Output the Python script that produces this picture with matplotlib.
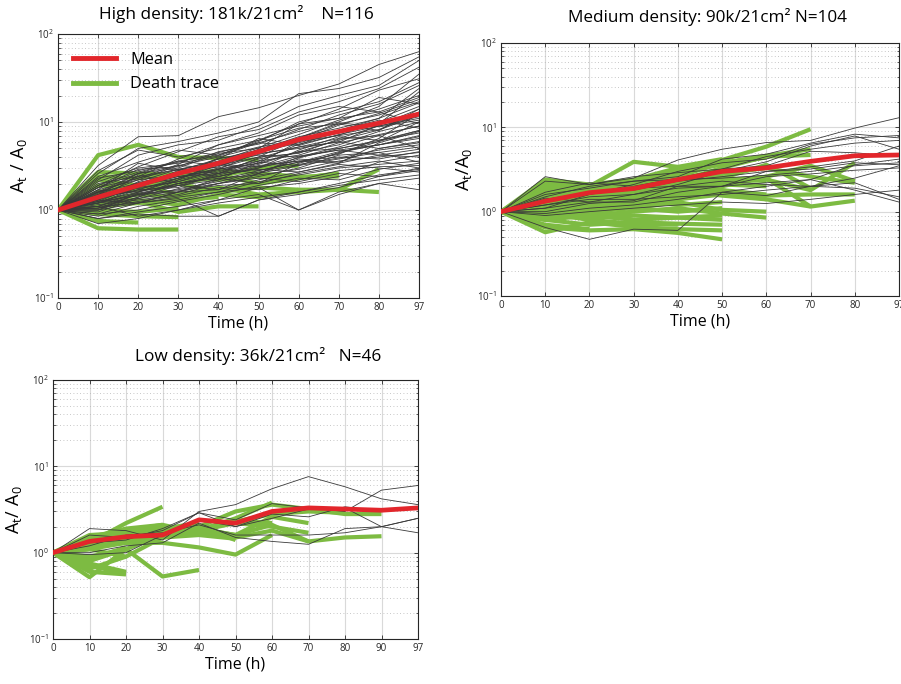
import matplotlib.pyplot as plt
import numpy as np
from matplotlib.ticker import LogLocator, NullFormatter

plt.rcParams["font.family"] = ["Open Sans", "DejaVu Sans"]

# time points (h); plotted at evenly spaced positions like the original
time_10 = [0, 10, 20, 30, 40, 50, 60, 70, 80, 97]
time_11 = [0, 10, 20, 30, 40, 50, 60, 70, 80, 90, 97]

# ---- high density: 181k/21cm2, N=116 ----
high_mean = [1, 1.4, 1.9, 2.6, 3.4, 4.6, 6.3, 7.8, 9.7, 12.3]
high_traces = [
    [1, 3.2, 6.8, 7.0, 11.5, 14.5, 20, 27, 45, 63],
    [1, 2.6, 5.0, 6.0, 7.5, 10, 21, 24, 32, 55],
    [1, 2.2, 4.2, 5.5, 6.2, 9.0, 15, 20, 26, 50],
    [1, 1.9, 3.1, 4.6, 6.8, 8.2, 13, 17, 24, 42],
    [1, 1.6, 2.6, 3.6, 4.2, 6.2, 9.5, 14, 23, 31],
    [1, 1.8, 2.9, 3.1, 4.6, 5.6, 8.2, 12, 16, 26],
    [1, 1.3, 2.1, 2.9, 3.6, 5.1, 7.2, 10.5, 14, 20],
    [1, 1.2, 1.8, 2.6, 3.1, 4.6, 6.1, 9.2, 12.5, 18],
    [1, 1.4, 1.9, 2.3, 2.9, 3.6, 5.6, 7.1, 10, 15],
    [1, 1.1, 1.5, 2.0, 2.6, 3.3, 4.6, 6.2, 8.1, 12],
    [1, 2.0, 2.4, 3.8, 5.5, 7.0, 9.0, 11, 13, 9.5],
    [1, 1.5, 2.2, 3.2, 3.0, 4.0, 6.5, 9.5, 8.0, 14],
    [1, 1.7, 3.4, 2.8, 3.8, 6.5, 5.5, 8.0, 11, 16.5],
    [1, 1.25, 1.6, 2.2, 3.5, 4.2, 4.0, 5.2, 7.0, 9.0],
    [1, 1.3, 2.5, 2.0, 2.4, 3.0, 4.8, 6.8, 6.2, 7.5],
    [1, 0.9, 1.2, 1.6, 2.2, 3.5, 3.2, 4.5, 5.5, 6.5],
    [1, 1.0, 1.4, 1.9, 1.7, 2.6, 3.8, 3.5, 5.0, 5.8],
    [1, 1.15, 1.3, 1.5, 2.0, 2.4, 3.0, 4.2, 4.5, 5.2],
    [1, 1.6, 2.0, 2.7, 2.4, 3.1, 3.6, 4.0, 3.8, 4.6],
    [1, 1.35, 1.7, 1.8, 2.6, 2.9, 2.7, 3.4, 4.2, 4.0],
    [1, 0.85, 1.1, 1.3, 1.6, 2.1, 2.5, 3.0, 3.3, 3.6],
    [1, 1.05, 1.25, 1.45, 1.8, 1.7, 2.2, 2.8, 3.1, 3.2],
    [1, 0.8, 0.95, 1.1, 1.3, 1.5, 1.0, 1.6, 2.0, 1.7],
    [1, 1.0, 1.2, 1.35, 0.85, 1.3, 1.5, 1.8, 2.4, 2.8],
    [1, 0.7, 0.8, 1.0, 1.2, 1.4, 1.6, 1.9, 2.2, 2.5],
    [1, 1.2, 1.5, 1.7, 2.0, 2.3, 2.1, 2.6, 2.4, 3.0],
    [1, 1.45, 1.9, 2.4, 2.9, 4.5, 5.8, 7.5, 9.5, 22],
    [1, 1.9, 2.7, 3.5, 4.5, 5.8, 7.8, 10, 15, 35],
    [1, 2.4, 3.5, 4.8, 4.2, 6.0, 10, 13, 17, 28],
    [1, 1.6, 2.3, 3.3, 5.5, 7.5, 12, 15, 13, 19],
    [1, 1.4, 2.0, 2.5, 3.8, 4.8, 6.8, 8.5, 11, 24],
    [1, 1.2, 1.7, 2.3, 3.2, 4.3, 5.2, 6.5, 9.0, 11],
    [1, 1.3, 1.8, 2.1, 2.7, 3.8, 4.5, 5.5, 7.8, 10],
    [1, 1.1, 1.6, 2.0, 2.4, 3.0, 3.9, 5.0, 6.0, 8.0],
    [1, 1.5, 1.9, 2.8, 3.3, 3.1, 4.1, 4.8, 5.5, 7.0],
    [1, 1.7, 2.2, 2.5, 3.9, 4.4, 5.0, 6.0, 5.0, 6.0],
    [1, 0.95, 1.35, 1.75, 2.1, 2.7, 3.3, 3.9, 4.8, 5.5],
    [1, 1.25, 1.45, 2.0, 2.3, 2.5, 2.9, 3.6, 4.0, 4.5],
    [1, 2.8, 4.8, 4.0, 5.0, 6.2, 8.5, 9.5, 12, 17],
    [1, 1.8, 2.6, 3.2, 4.0, 5.2, 6.0, 7.0, 8.2, 13],
    [1, 1.05, 1.4, 2.2, 2.8, 3.4, 6.0, 8.0, 10.5, 8.5],
    [1, 1.35, 2.05, 2.6, 3.3, 2.8, 3.5, 4.3, 6.5, 12.5],
    [1, 0.9, 1.0, 1.25, 1.5, 1.9, 2.3, 2.2, 2.9, 3.4],
    [1, 1.1, 0.85, 1.0, 1.3, 1.8, 2.0, 2.4, 3.5, 4.2],
    [1, 1.55, 2.4, 2.9, 2.6, 3.6, 4.2, 5.8, 7.2, 9.0],
    [1, 1.2, 1.55, 1.9, 2.2, 2.8, 3.5, 4.6, 5.5, 6.8],
    [1, 2.1, 3.0, 3.4, 4.1, 5.8, 5.4, 7.2, 9.0, 11.5],
    [1, 1.65, 1.75, 2.1, 2.9, 3.4, 4.6, 5.0, 6.2, 8.0],
    [1, 1.0, 1.55, 1.65, 1.9, 2.0, 2.6, 3.1, 3.6, 3.0],
    [1, 1.3, 1.2, 1.6, 1.7, 2.2, 2.7, 3.3, 3.0, 2.7],
    [1, 0.8, 0.9, 0.85, 0.85, 1.3, 1.6, 2.0, 2.5, 2.9],
    [1, 1.1, 1.2, 1.4, 1.6, 1.8, 1.0, 1.5, 2.0, 2.3],
    [1, 1.5, 2.6, 3.0, 4.4, 5.0, 9.5, 11, 19, 16],
    [1, 1.8, 2.3, 2.9, 3.4, 4.9, 6.6, 9.8, 8.8, 10.5],
    [1, 1.25, 1.9, 2.4, 2.6, 3.9, 5.2, 5.9, 9.2, 14],
    [1, 2.3, 2.8, 3.6, 3.2, 4.0, 4.4, 6.4, 7.0, 5.0],
    [1, 1.6, 1.6, 2.3, 3.0, 2.6, 3.2, 3.8, 4.5, 3.5],
    [1, 1.4, 1.65, 1.9, 2.5, 3.2, 3.6, 3.4, 5.8, 7.8],
    [1, 1.05, 1.5, 1.6, 2.0, 2.6, 4.0, 4.8, 4.2, 4.9],
    [1, 1.2, 1.35, 1.6, 2.3, 2.0, 3.4, 4.4, 6.0, 10],
]
high_death = [
    [1, 4.2, 5.5, 4.0, 3.9, 3.7],
    [1, 2.7, 2.6, 2.5, 2.2, 2.4, 2.3, 2.6],
    [1, 2.4, 2.3, 2.6, 2.8, 2.6, 2.4, 2.4],
    [1, 2.2, 1.9, 2.0, 2.4, 3.0, 3.2],
    [1, 0.62, 0.6, 0.6],
    [1, 0.75, 0.72],
    [1, 0.9, 0.85, 0.83],
    [1, 1.2, 1.25, 0.95, 1.1, 1.1],
    [1, 1.6, 1.9, 1.5, 1.8, 1.5, 1.6, 1.7, 1.6],
    [1, 1.5, 1.7, 2.0, 1.6, 1.8, 1.7, 1.7, 2.9],
    [1, 1.3, 1.5, 1.4, 1.7, 2.0, 2.3, 2.6],
    [1, 1.9, 1.8, 2.2, 2.5, 2.0],
    [1, 1.1, 1.2, 1.3, 1.4],
    [1, 1.4, 1.3, 1.15, 1.5, 1.4, 1.7],
    [1, 1.0, 0.95, 1.05],
]

# ---- medium density: 90k/21cm2, N=104 ----
medium_mean = [1, 1.33, 1.68, 1.88, 2.4, 3.0, 3.3, 3.95, 4.6, 4.7]
medium_traces = [
    [1, 2.6, 2.1, 2.5, 4.1, 5.5, 6.6, 7.0, 9.8, 13],
    [1, 1.5, 2.0, 2.3, 2.6, 4.2, 4.8, 6.5, 8.3, 7.5],
    [1, 1.2, 1.5, 1.6, 2.1, 3.0, 3.9, 6.0, 7.9, 5.5],
    [1, 0.65, 0.47, 0.62, 0.6, 1.7, 1.55, 2.0, 2.5, 3.5],
    [1, 1.0, 1.25, 1.35, 2.0, 2.3, 2.1, 2.0, 1.9, 1.5],
    [1, 1.45, 1.3, 1.6, 1.9, 2.0, 2.6, 2.8, 3.1, 3.3],
    [1, 1.3, 1.6, 2.1, 3.0, 3.8, 4.2, 6.3, 7.5, 8.0],
    [1, 1.7, 2.2, 2.0, 2.5, 3.2, 3.5, 5.2, 5.0, 4.5],
    [1, 1.1, 1.3, 1.3, 1.7, 2.0, 3.0, 3.4, 4.0, 6.0],
    [1, 0.95, 1.1, 1.2, 1.4, 1.7, 2.0, 2.4, 3.6, 4.2],
    [1, 1.2, 1.4, 1.4, 1.5, 1.6, 1.8, 2.0, 2.2, 1.4],
    [1, 0.9, 1.0, 1.1, 1.2, 1.3, 1.25, 1.4, 1.6, 1.8],
    [1, 1.6, 1.9, 2.3, 2.4, 2.5, 2.7, 3.0, 3.5, 3.8],
    [1, 1.4, 1.7, 1.8, 2.3, 2.6, 3.0, 3.2, 3.8, 3.6],
    [1, 1.1, 1.6, 1.9, 2.0, 2.0, 2.2, 2.4, 1.8, 1.3],
    [1, 2.3, 2.1, 2.6, 2.9, 3.2, 4.5, 5.5, 6.5, 7.0],
]
medium_death = [
    [1, 1.2, 1.8, 2.1, 2.8, 4.1, 5.9, 9.5],
    [1, 1.5, 1.7, 2.0, 2.6, 3.8, 4.6, 5.5],
    [1, 1.3, 1.5, 1.9, 2.3, 3.3, 4.5, 4.7],
    [1, 1.1, 1.4, 1.6, 2.0, 2.5, 3.6, 1.9],
    [1, 1.4, 1.6, 1.7, 2.1, 2.4, 2.5, 1.15],
    [1, 1.25, 1.5, 1.8, 2.2, 2.8, 3.3, 2.6, 2.2],
    [1, 1.1, 1.3, 1.6, 1.9, 2.2, 2.4, 1.8, 3.8],
    [1, 0.9, 1.2, 1.4, 1.6, 1.8, 1.4, 1.15, 1.35],
    [1, 1.0, 1.1, 1.3, 1.5, 1.65, 1.55, 1.6, 1.6],
    [1, 1.2, 1.4, 1.5, 1.8, 2.0, 2.6, 3.5, 2.3],
    [1, 0.8, 0.9, 1.0, 1.1, 0.95, 0.85],
    [1, 1.2, 1.0, 1.1, 1.3, 1.05, 1.0],
    [1, 1.4, 1.3, 1.5, 1.8, 1.55, 1.4],
    [1, 1.6, 1.5, 2.0, 2.2, 2.5, 2.3],
    [1, 1.9, 1.6, 1.8, 2.5, 3.0, 3.3],
    [1, 1.7, 1.8, 2.3, 3.0, 3.6, 4.4],
    [1, 1.3, 1.2, 1.3, 1.5, 1.8, 1.6],
    [1, 0.65, 0.6, 0.62, 0.56, 0.47],
    [1, 0.57, 0.75, 0.66, 0.62, 0.6],
    [1, 0.8, 0.7, 0.75, 0.72, 0.7],
    [1, 0.9, 0.85, 0.9, 0.85, 0.8],
    [1, 2.2, 2.0, 3.9, 3.4, 4.2],
    [1, 2.4, 2.1, 2.4, 3.3, 3.8],
    [1, 1.5, 1.5, 1.6, 2.4, 2.8],
    [1, 1.3, 1.1, 1.2, 1.4, 1.6],
    [1, 1.0, 1.3, 1.1, 1.0, 1.1],
    [1, 1.8, 1.7, 1.4, 1.2, 1.3],
    [1, 1.05, 1.4, 1.5, 1.7, 2.0],
    [1, 0.95, 0.8, 0.72, 0.7],
    [1, 1.6, 1.3, 1.2, 1.5],
    [1, 0.85, 1.0, 0.8],
    [1, 1.3, 1.0, 1.3],
    [1, 0.7, 0.62],
    [1, 1.7, 1.4, 1.6, 1.9, 2.1, 2.0],
    [1, 2.0, 1.9, 2.1, 2.0, 2.3, 2.6],
    [1, 1.15, 0.9, 0.8, 0.85, 0.9],
]

# ---- low density: 36k/21cm2, N=46 ----
low_mean = [1, 1.35, 1.53, 1.6, 2.4, 2.2, 3.0, 3.3, 3.2, 3.1, 3.3]
low_traces = [
    [1, 1.9, 1.8, 1.4, 3.0, 3.6, 5.5, 7.6, 5.8, 4.2, 3.6],
    [1, 1.6, 1.5, 1.8, 2.9, 2.4, 3.7, 3.3, 3.0, 5.3, 6.0],
    [1, 1.0, 1.2, 1.3, 2.2, 1.5, 1.35, 1.25, 1.9, 2.0, 2.5],
    [1, 1.3, 1.4, 1.9, 2.9, 2.0, 2.5, 3.2, 3.3, 2.0, 1.7],
    [1, 1.2, 1.6, 1.7, 2.1, 1.6, 1.6, 1.6, 1.7, 2.0, 2.5],
    [1, 0.95, 1.0, 1.6, 2.4, 2.0, 2.8, 2.6, 3.4, 3.0, 3.3],
]
low_death = [
    [1, 1.3, 2.2, 3.4],
    [1, 0.52, 1.1, 0.53, 0.63],
    [1, 0.6, 0.56],
    [1, 0.7, 0.58],
    [1, 0.75, 0.6],
    [1, 0.65, 0.9],
    [1, 0.85, 1.15],
    [1, 1.2, 1.3, 1.3, 1.15, 0.95, 1.6],
    [1, 1.5, 1.6, 1.8, 2.0, 1.4],
    [1, 1.2, 1.4, 1.6, 1.8, 2.5, 3.8],
    [1, 1.4, 1.5, 1.8, 2.0, 3.0, 3.6, 3.2, 2.8, 2.8],
    [1, 1.1, 1.3, 1.5, 1.7, 1.6, 2.1, 1.35, 1.5, 1.55],
    [1, 1.2, 1.5, 1.6, 1.9, 1.6, 2.6, 2.2],
    [1, 1.1, 1.7, 2.0, 1.8, 2.2, 2.0, 1.7],
    [1, 1.3, 1.4, 1.5, 1.7, 1.5, 1.8, 1.35],
    [1, 1.4, 1.5, 1.6, 1.9, 2.3, 2.8, 3.0, 2.9],
    [1, 1.3, 1.6, 1.9, 2.2],
    [1, 1.4, 1.8, 2.1],
    [1, 0.9, 1.1, 1.6],
    [1, 0.8, 1.1],
    [1, 1.6, 1.7, 2.0, 1.9, 1.6],
    [1, 1.5, 1.9, 2.1, 1.7, 2.4, 2.2],
    [1, 1.1, 0.9, 1.5, 1.6, 1.45],
]

grey = "#3a3a3a"
green = "#7dbb42"
red = "#e2262b"

W, H = 901, 684
fig = plt.figure(figsize=(W / 100, H / 100), dpi=100)


def px_axes(x0, y0, x1, y1):
    return fig.add_axes([x0 / W, 1 - y1 / H, (x1 - x0) / W, (y1 - y0) / H])


def draw_panel(ax, times, traces, death, mean):
    for tr in traces:
        ax.plot(np.arange(len(tr)), tr, color=grey, lw=0.6, zorder=3)
    for tr in death:
        ax.plot(np.arange(len(tr)), tr, color=green, lw=3.0, zorder=2,
                solid_joinstyle="round", solid_capstyle="butt")
    ax.plot(np.arange(len(mean)), mean, color=red, lw=3.4, zorder=4,
            solid_joinstyle="round")

    ax.set_yscale("log")
    ax.set_ylim(0.1, 100)
    ax.set_xlim(0, len(times) - 1)
    ax.set_xticks(np.arange(len(times)))
    ax.set_xticklabels([str(t) for t in times])
    ax.yaxis.set_minor_locator(LogLocator(base=10, subs=np.arange(2, 10)))
    ax.yaxis.set_minor_formatter(NullFormatter())

    ax.grid(True, which="major", color="#d9d9d9", lw=0.8, ls="-", zorder=0)
    ax.grid(True, which="minor", axis="y", color="#b5b5b5", lw=0.6,
            ls=(0, (1, 3)), zorder=0)
    ax.tick_params(which="both", direction="in", top=True, right=True,
                   labelsize=7, colors="#262626", pad=3)
    ax.tick_params(which="major", length=3, width=0.6)
    ax.tick_params(which="minor", length=1.8, width=0.5)
    for s in ax.spines.values():
        s.set_color("#262626")
        s.set_linewidth(0.8)
    ax.set_xlabel("Time (h)", fontsize=11.5, labelpad=2)


ax1 = px_axes(58, 34, 419, 298)
draw_panel(ax1, time_10, high_traces, high_death, high_mean)
ax1.set_ylabel(r"$\mathregular{A_t\ /\ A_0}$", fontsize=13, labelpad=4)
ax1.plot([], [], color=red, lw=3.5, label="Mean")
ax1.plot([], [], color=green, lw=3.5, label="Death trace")
h, l = ax1.get_legend_handles_labels()
ax1.legend(h[-2:], l[-2:], loc="upper left", frameon=False, fontsize=11.8,
           handlelength=2.6, handletextpad=0.9, labelspacing=0.5,
           borderaxespad=0.3, bbox_to_anchor=(0.01, 0.975))

ax2 = px_axes(501, 43, 899, 296)
draw_panel(ax2, time_10, medium_traces, medium_death, medium_mean)
ax2.set_ylabel(r"$\mathregular{A_t/A_0}$", fontsize=13, labelpad=2)

ax3 = px_axes(53, 380, 418, 639)
draw_panel(ax3, time_11, low_traces, low_death, low_mean)
ax3.set_ylabel(r"$\mathregular{A_t/\ A_0}$", fontsize=13, labelpad=4)

fig.text(236 / W, 1 - 14 / H, "High density: 181k/21cm²    N=116",
         ha="center", va="center", fontsize=12.4)
fig.text(708 / W, 1 - 17 / H, "Medium density: 90k/21cm² N=104",
         ha="center", va="center", fontsize=12.3)
fig.text(258 / W, 1 - 356 / H, "Low density: 36k/21cm²   N=46",
         ha="center", va="center", fontsize=12.4)

fig.savefig("out.png", dpi=100)
